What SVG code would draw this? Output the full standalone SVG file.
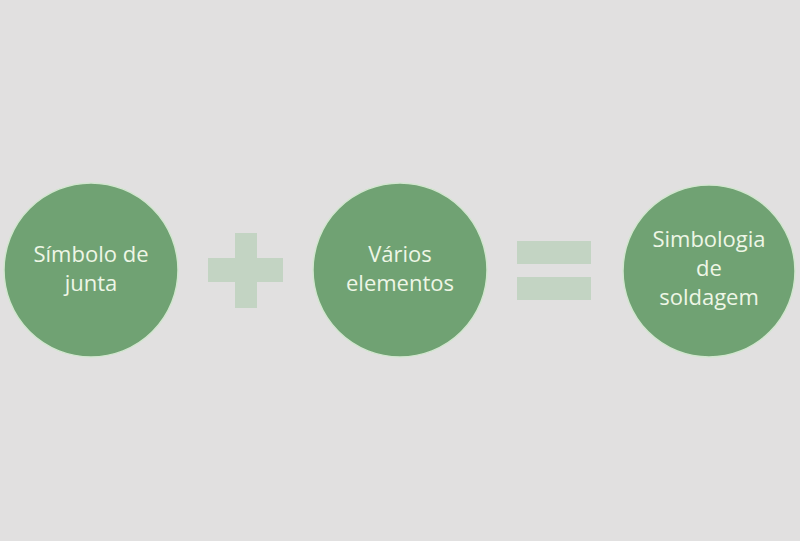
<svg xmlns="http://www.w3.org/2000/svg" width="800" height="541" viewBox="0 0 800 541">
<style>
.node{fill:#70a273;stroke:#d2e6cf;stroke-width:1.5}
.lbl{font-family:"Open Sans","Noto Sans",sans-serif;font-size:22px;fill:#eef6e6;text-anchor:middle}
.op{fill:#c3d4c3}
</style>
<rect width="800" height="541" fill="#e1e0e0"/>
<g id="node1">
<circle class="node" cx="91" cy="270" r="87"/>
<text class="lbl" x="91" y="262">Símbolo de</text>
<text class="lbl" x="91" y="291">junta</text>
</g>
<g id="plus">
<rect class="op" x="208" y="258" width="75" height="24"/>
<rect class="op" x="235" y="233" width="22" height="75"/>
</g>
<g id="node2">
<circle class="node" cx="400" cy="270" r="87"/>
<text class="lbl" x="400" y="262">Vários</text>
<text class="lbl" x="400" y="291">elementos</text>
</g>
<g id="equals">
<rect class="op" x="517" y="241" width="74" height="23"/>
<rect class="op" x="517" y="277" width="74" height="23"/>
</g>
<g id="node3">
<circle class="node" cx="709" cy="271" r="86"/>
<text class="lbl" x="709" y="247">Simbologia</text>
<text class="lbl" x="709" y="276">de</text>
<text class="lbl" x="709" y="305">soldagem</text>
</g>
<g id="connectors"/>
</svg>
